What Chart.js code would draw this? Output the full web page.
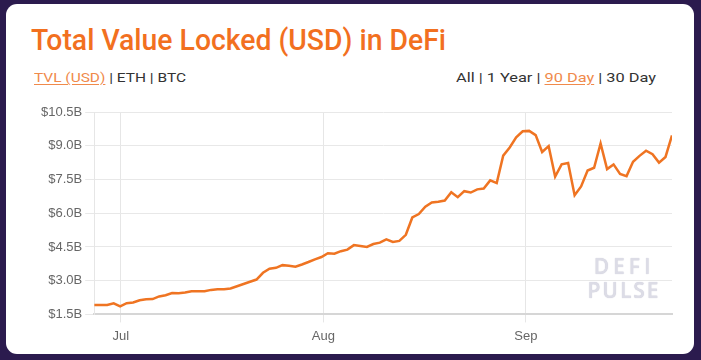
<!DOCTYPE html>
<html>
<head>
<meta charset="utf-8">
<script src="https://cdn.jsdelivr.net/npm/chart.js@4/dist/chart.umd.min.js"></script>
<style>
  html, body { margin: 0; padding: 0; }
  body { width: 701px; height: 360px; background: #2b1b4e; position: relative; overflow: hidden; font-family: Roboto, "Noto Sans", sans-serif; }
  #card { position: absolute; left: 6px; top: 4px; width: 688px; height: 350px; background: #ffffff; border-radius: 11px; }
  .fit { position: absolute; white-space: nowrap; transform-origin: 0 0; }
  #title { left: 31px; top: 23px; font-size: 29px; font-weight: 500; color: #f2701f; }
  #leftCtl, #rightCtl { top: 69px; font-size: 13.5px; color: #333; }
  #leftCtl { left: 34px; }
  #rightCtl { left: 456px; }
  .act { color: #f08a4b; text-decoration: underline; text-underline-offset: 2px; }
  #chartBox { position: absolute; left: 0; top: 100px; width: 701px; height: 251px; }
  #wm { position: absolute; left: 585px; top: 254px; width: 78px; text-align: center; color: #dcdce6; font-family: "Open Sans", sans-serif; font-weight: 600; font-size: 21px; line-height: 24px; letter-spacing: 2px; text-shadow: 0 0 1px #c8c8d4; }
  #wm .d { letter-spacing: 4px; }
</style>
</head>
<body>
<div id="card"></div>
<div id="title" class="fit" data-w="415">Total Value Locked (USD) in DeFi</div>
<div id="leftCtl" class="fit" data-w="152"><span class="act">TVL (USD)</span> | ETH | BTC</div>
<div id="rightCtl" class="fit" data-w="200">All | 1 Year | <span class="act">90 Day</span> | 30 Day</div>
<div id="chartBox"><canvas id="c"></canvas></div>
<div id="wm"><span class="d">DEFI</span><br>PULSE</div>
<script>
// Tick labels for the x axis and their positions (in data-point index units)
const tickLabels = ['Jul', 'Aug', 'Sep'];
const tickPositions = [4.1, 35.3, 66.5];

// Total value locked in USD billions, one value per point (90 points, ~daily)
const tvlValues = [
  1.92, 1.92, 1.92, 1.99, 1.86, 2.00, 2.03, 2.13, 2.17, 2.18,
  2.30, 2.35, 2.45, 2.44, 2.47, 2.53, 2.53, 2.53, 2.59, 2.62,
  2.62, 2.65, 2.75, 2.85, 2.95, 3.05, 3.35, 3.53, 3.57, 3.69,
  3.66, 3.62, 3.72, 3.83, 3.95, 4.05, 4.22, 4.20, 4.31, 4.38,
  4.58, 4.54, 4.50, 4.63, 4.69, 4.84, 4.72, 4.77, 5.04, 5.81,
  5.96, 6.29, 6.48, 6.51, 6.56, 6.93, 6.71, 6.98, 6.92, 7.06,
  7.10, 7.46, 7.34, 8.56, 8.92, 9.37, 9.64, 9.66, 9.47, 8.72,
  8.98, 7.63, 8.17, 8.23, 6.80, 7.19, 7.90, 8.02, 9.10, 7.96,
  8.17, 7.75, 7.65, 8.29, 8.55, 8.78, 8.62, 8.25, 8.50, 9.46
];

// Y axis range/step (USD billions)
const yMin = 1.5, yMax = 10.5, yStep = 1.5;

// fit header texts to measured widths
document.querySelectorAll('.fit').forEach(el => {
  const w = el.getBoundingClientRect().width;
  const target = parseFloat(el.dataset.w);
  el.style.transform = 'scaleX(' + (target / w) + ')';
});

const points = tvlValues.map((v, i) => ({ x: i, y: v }));

new Chart(document.getElementById('c'), {
  type: 'line',
  data: {
    datasets: [{
      data: points,
      borderColor: '#ef7422',
      borderWidth: 2.5,
      pointRadius: 0,
      tension: 0,
      fill: false
    }]
  },
  options: {
    responsive: true,
    maintainAspectRatio: false,
    animation: false,
    layout: { padding: { left: 38, right: 29, top: 12, bottom: 1 } },
    plugins: { legend: { display: false }, tooltip: { enabled: false } },
    scales: {
      x: {
        type: 'linear',
        min: 0,
        max: tvlValues.length - 1,
        afterBuildTicks: (scale) => { scale.ticks = tickPositions.map(v => ({ value: v })); },
        ticks: {
          autoSkip: false,
          maxRotation: 0,
          color: '#666',
          padding: 6,
          font: { family: '"Liberation Sans", Arial, sans-serif', size: 13 },
          callback: (value, index) => tickLabels[index]
        },
        grid: { color: '#e6e6e6', tickLength: 8, drawOnChartArea: true },
        border: { display: true, color: '#d6d6d6', width: 2 }
      },
      y: {
        min: yMin,
        max: yMax,
        ticks: {
          stepSize: yStep,
          color: '#666',
          padding: 3,
          font: { family: '"Liberation Sans", Arial, sans-serif', size: 13 },
          callback: (v) => '$' + Number(v).toFixed(1) + 'B'
        },
        grid: { color: '#e8e8e8', tickLength: 9 },
        border: { display: true, color: '#e6e6e6', width: 1 }
      }
    }
  }
});
</script>
</body>
</html>
